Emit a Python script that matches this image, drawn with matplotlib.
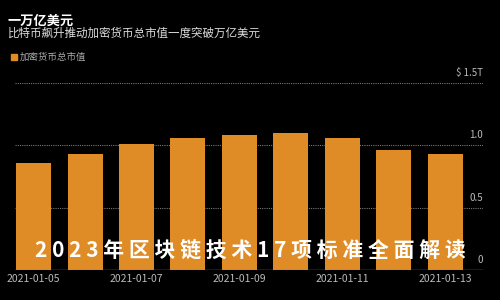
import matplotlib.pyplot as plt
import numpy as np

plt.rcParams['font.family'] = ['Noto Sans CJK SC', 'DejaVu Sans']

# data
dates = ['2021-01-05', '2021-01-06', '2021-01-07', '2021-01-08', '2021-01-09',
         '2021-01-10', '2021-01-11', '2021-01-12', '2021-01-13']
market_cap = [0.86, 0.93, 1.01, 1.06, 1.085, 1.10, 1.06, 0.965, 0.93]
y_ticks = [0, 0.5, 1.0, 1.5]
y_tick_labels = ['0', '0.5', '1.0', '$ 1.5T']

title = '一万亿美元'
subtitle = '比特币飙升推动加密货币总市值一度突破万亿美元'
legend_label = '加密货币总市值'
watermark = '2023年区块链技术17项标准全面解读'

bar_color = '#E08C26'
bg = '#000000'

fig = plt.figure(figsize=(5, 3), dpi=100, facecolor=bg)
ax = fig.add_axes([0.03, 0.1, 0.936, 0.6233], facecolor=bg)

x = np.arange(len(dates))
ax.bar(x, market_cap, width=0.68, color=bar_color, zorder=2)

ax.set_ylim(0, 1.5)
ax.set_xlim(-0.36, 8.73)

# dotted grid lines
for yv in y_ticks[1:]:
    ax.axhline(yv, color='#777777', lw=0.8, ls=(0, (1, 1)), zorder=1)
ax.axhline(0, color='#888888', lw=1.0, zorder=3)

for yv, lab in zip(y_ticks, y_tick_labels):
    ax.text(1.0, yv + 0.04, lab, transform=ax.get_yaxis_transform(),
            ha='right', va='bottom', color='#bbbbbb', fontsize=7)

ax.set_yticks([])
ax.set_xticks(x[::2])
ax.set_xticklabels(dates[::2], color='#bbbbbb', fontsize=7.5)
ax.tick_params(axis='x', length=0, pad=3)
for s in ax.spines.values():
    s.set_visible(False)

fig.text(0.016, 0.932, title, color='white', fontsize=9.5, fontweight='bold', va='center')
fig.text(0.016, 0.888, subtitle, color='#dddddd', fontsize=8.3, va='center')
fig.patches.append(plt.Rectangle((0.022, 0.800), 0.012, 0.02, transform=fig.transFigure,
                                 color=bar_color, figure=fig))
fig.text(0.04, 0.81, legend_label, color='#aaaaaa', fontsize=6.8, va='center')

fig.text(0.5, 0.165, ' '.join(watermark), color='white', fontsize=15, fontweight='bold',
         ha='center', va='center', zorder=10)

fig.savefig('out.png', dpi=100, facecolor=bg)
